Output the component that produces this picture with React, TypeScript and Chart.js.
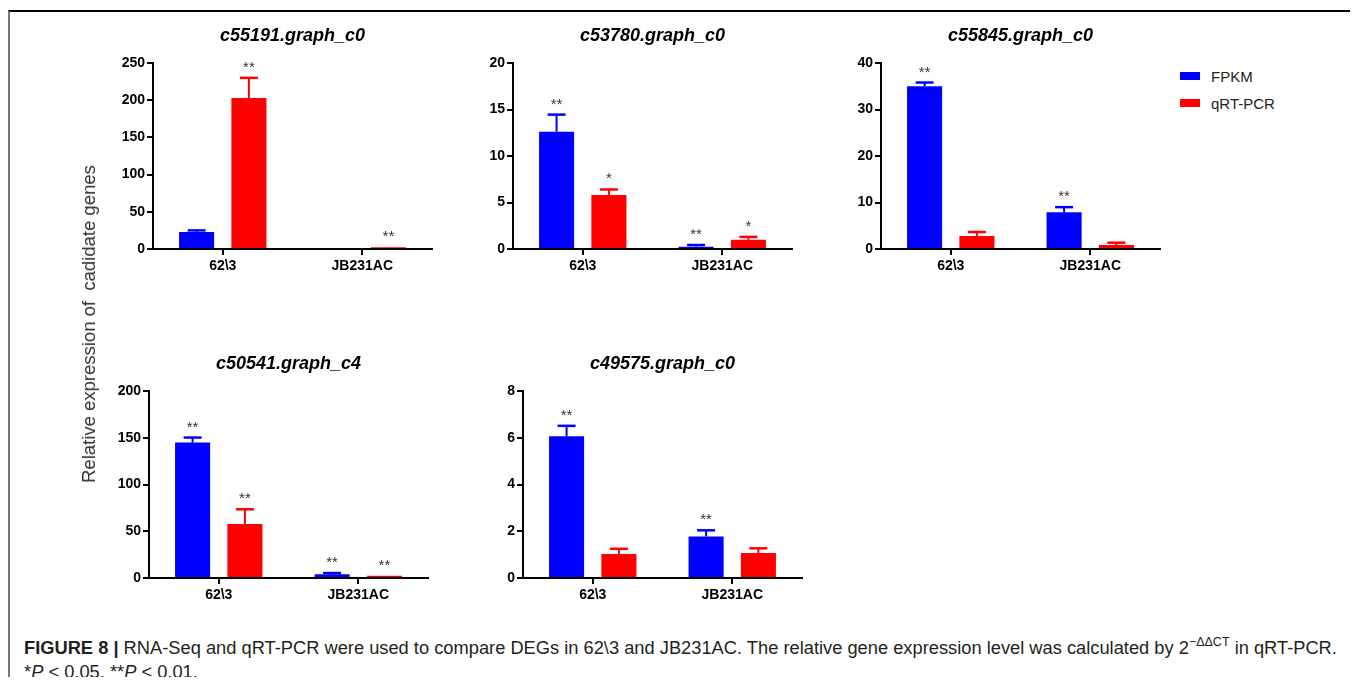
import React, { useEffect, useRef } from "react";
import { Chart, registerables } from "chart.js";

Chart.register(...registerables);

const FONT = '"Liberation Sans", Arial, Helvetica, sans-serif';

// Shared categories and series
const categories = ["62\\3", "JB231AC"];
const seriesNames = ["FPKM", "qRT-PCR"];
const seriesColors = ["#0000ff", "#ff0000"];

// c55191.graph_c0
const fpkmC55191 = [23, 0];
const fpkmErrC55191 = [2, 0];
const qpcrC55191 = [203, 2.5];
const qpcrErrC55191 = [27, 0];
const fpkmSigC55191 = ["", ""];
const qpcrSigC55191 = ["**", "**"];

// c53780.graph_c0
const fpkmC53780 = [12.6, 0.25];
const fpkmErrC53780 = [1.85, 0.18];
const qpcrC53780 = [5.8, 1.0];
const qpcrErrC53780 = [0.6, 0.3];
const fpkmSigC53780 = ["**", "**"];
const qpcrSigC53780 = ["*", "*"];

// c55845.graph_c0
const fpkmC55845 = [35, 7.9];
const fpkmErrC55845 = [0.8, 1.1];
const qpcrC55845 = [2.8, 0.85];
const qpcrErrC55845 = [0.85, 0.5];
const fpkmSigC55845 = ["**", "**"];
const qpcrSigC55845 = ["", ""];

// c50541.graph_c4
const fpkmC50541 = [144.8, 4.0];
const fpkmErrC50541 = [5.4, 1.3];
const qpcrC50541 = [57.8, 2.5];
const qpcrErrC50541 = [15.7, 0];
const fpkmSigC50541 = ["**", "**"];
const qpcrSigC50541 = ["**", "**"];

// c49575.graph_c0
const fpkmC49575 = [6.06, 1.78];
const fpkmErrC49575 = [0.45, 0.26];
const qpcrC49575 = [1.03, 1.07];
const qpcrErrC49575 = [0.22, 0.2];
const fpkmSigC49575 = ["**", "**"];
const qpcrSigC49575 = ["", ""];

// Y axis ranges
const yMaxes = [250, 20, 40, 200, 8];
const ySteps = [50, 5, 10, 50, 2];

const titles = [
  "c55191.graph_c0",
  "c53780.graph_c0",
  "c55845.graph_c0",
  "c50541.graph_c4",
  "c49575.graph_c0",
];

// Plot-area boxes on the page: left, right, top, bottom
const plotBoxes = [
  [153, 432, 63, 249],
  [513, 792, 63, 249],
  [881, 1160, 63, 249],
  [149, 428, 391, 578],
  [523, 802, 391, 578],
];

const panels = [
  { values: [fpkmC55191, qpcrC55191], errors: [fpkmErrC55191, qpcrErrC55191], sig: [fpkmSigC55191, qpcrSigC55191] },
  { values: [fpkmC53780, qpcrC53780], errors: [fpkmErrC53780, qpcrErrC53780], sig: [fpkmSigC53780, qpcrSigC53780] },
  { values: [fpkmC55845, qpcrC55845], errors: [fpkmErrC55845, qpcrErrC55845], sig: [fpkmSigC55845, qpcrSigC55845] },
  { values: [fpkmC50541, qpcrC50541], errors: [fpkmErrC50541, qpcrErrC50541], sig: [fpkmSigC50541, qpcrSigC50541] },
  { values: [fpkmC49575, qpcrC49575], errors: [fpkmErrC49575, qpcrErrC49575], sig: [fpkmSigC49575, qpcrSigC49575] },
];

const Y_AXIS_W = 70;
const X_AXIS_H = 35;
const PAD_TOP = 55;
const PAD_RIGHT = 15;
const ROOT_OFFSET = 8;

// Draws the error bars, significance marks and panel title
const annotatePlugin = {
  id: "annotate",
  afterDatasetsDraw(chart: any, _args: any, opts: any) {
    const { ctx, chartArea, scales } = chart;
    const yScale = scales.y;
    ctx.save();
    chart.data.datasets.forEach((ds: any, i: number) => {
      const meta = chart.getDatasetMeta(i);
      meta.data.forEach((bar: any, j: number) => {
        const v = ds.data[j] as number;
        const e = opts.errors[i][j] as number;
        const yVal = yScale.getPixelForValue(v);
        const yTop = yScale.getPixelForValue(v + e);
        if (e > 0) {
          ctx.strokeStyle = seriesColors[i];
          ctx.lineWidth = 2;
          ctx.beginPath();
          ctx.moveTo(bar.x, yVal);
          ctx.lineTo(bar.x, yTop);
          ctx.stroke();
          ctx.lineWidth = 2.5;
          ctx.beginPath();
          ctx.moveTo(bar.x - 9, yTop);
          ctx.lineTo(bar.x + 9, yTop);
          ctx.stroke();
        }
        const s = opts.sig[i][j];
        if (s) {
          ctx.fillStyle = "#333";
          ctx.font = `15px ${FONT}`;
          ctx.textAlign = "center";
          ctx.textBaseline = "alphabetic";
          ctx.fillText(s, bar.x, Math.min(yTop, yVal) - 6);
        }
      });
    });
    ctx.fillStyle = "#000";
    ctx.font = `italic bold 18px ${FONT}`;
    ctx.textAlign = "center";
    ctx.textBaseline = "middle";
    ctx.fillText(opts.title, (chartArea.left + chartArea.right) / 2, chartArea.top - 27);
    ctx.restore();
  },
};

function Panel({ index }: { index: number }) {
  const ref = useRef<HTMLCanvasElement>(null);
  const [l, r, t, b] = plotBoxes[index];
  const w = r - l + Y_AXIS_W + PAD_RIGHT;
  const h = b - t + PAD_TOP + X_AXIS_H;

  useEffect(() => {
    const p = panels[index];
    const chart = new Chart(ref.current as HTMLCanvasElement, {
      type: "bar",
      data: {
        labels: categories,
        datasets: p.values.map((vals, i) => ({
          label: seriesNames[i],
          data: vals,
          backgroundColor: seriesColors[i],
          borderWidth: 0,
          categoryPercentage: 0.75,
          barPercentage: 0.67,
        })),
      },
      options: {
        responsive: false,
        animation: false,
        layout: { padding: { top: PAD_TOP, right: PAD_RIGHT, left: 0, bottom: 0 } },
        plugins: {
          legend: { display: false },
          title: { display: false },
          tooltip: { enabled: false },
          annotate: { errors: p.errors, sig: p.sig, title: titles[index] },
        } as any,
        scales: {
          x: {
            grid: {
              offset: false,
              drawOnChartArea: false,
              drawTicks: true,
              tickLength: 6,
              lineWidth: 2,
              color: "#000",
            },
            border: { display: true, width: 2, color: "#000" },
            ticks: { color: "#000", font: { family: FONT, size: 14, weight: "bold" }, padding: 3 },
            afterFit: (scale: any) => {
              scale.height = X_AXIS_H;
            },
          },
          y: {
            min: 0,
            max: yMaxes[index],
            grid: {
              drawOnChartArea: false,
              drawTicks: true,
              tickLength: 6,
              lineWidth: 2,
              color: "#000",
            },
            border: { display: true, width: 2, color: "#000" },
            ticks: {
              stepSize: ySteps[index],
              color: "#000",
              font: { family: FONT, size: 14, weight: "bold" },
              padding: 2,
            },
            afterFit: (scale: any) => {
              scale.width = Y_AXIS_W;
            },
          },
        },
      },
      plugins: [annotatePlugin],
    });
    return () => chart.destroy();
  }, [index]);

  return (
    <canvas
      ref={ref}
      width={w}
      height={h}
      style={{
        position: "absolute",
        left: l - Y_AXIS_W - ROOT_OFFSET,
        top: t - PAD_TOP - ROOT_OFFSET,
        width: w,
        height: h,
      }}
    />
  );
}

export default function App() {
  useEffect(() => {
    document.documentElement.style.overflow = "hidden";
  }, []);

  return (
    <div style={{ position: "relative", width: 1350, height: 669, fontFamily: FONT }}>
      <div
        style={{
          position: "absolute",
          left: 0,
          top: 2,
          width: 1349,
          height: 675,
          boxSizing: "border-box",
          borderTop: "2px solid #000",
          borderLeft: "2px solid #777",
          borderRight: "2px solid #777",
        }}
      />
      {panels.map((_, i) => (
        <Panel key={i} index={i} />
      ))}
      <div
        style={{
          position: "absolute",
          left: 89 - ROOT_OFFSET,
          top: 324 - ROOT_OFFSET,
          transform: "translate(-50%, -50%) rotate(-90deg)",
          whiteSpace: "pre",
          fontSize: 18.5,
          color: "#333",
        }}
      >
        {"Relative expression of  cadidate genes"}
      </div>
      {seriesNames.map((name, i) => (
        <div key={name}>
          <div
            style={{
              position: "absolute",
              left: 1180 - ROOT_OFFSET,
              top: (i === 0 ? 72 : 99) - ROOT_OFFSET,
              width: 20,
              height: 8,
              background: seriesColors[i],
            }}
          />
          <div
            style={{
              position: "absolute",
              left: 1211 - ROOT_OFFSET,
              top: (i === 0 ? 76 : 103) - ROOT_OFFSET,
              transform: "translateY(-50%)",
              fontSize: 15,
              color: "#222",
              whiteSpace: "nowrap",
            }}
          >
            {name}
          </div>
        </div>
      ))}
      <div
        style={{
          position: "absolute",
          left: 24 - ROOT_OFFSET,
          top: 637 - ROOT_OFFSET,
          fontSize: 18.3,
          lineHeight: "22px",
          color: "#231f20",
          whiteSpace: "nowrap",
        }}
      >
        <b>FIGURE 8 |</b> RNA-Seq and qRT-PCR were used to compare DEGs in 62\3 and JB231AC. The relative gene expression
        level was calculated by 2<sup style={{ fontSize: 12.5, verticalAlign: 0, position: "relative", top: -8 }}>−ΔΔCT</sup> in qRT-PCR.
        <br />*<i>P</i> &lt; 0.05, **<i>P</i> &lt; 0.01.
      </div>
    </div>
  );
}
